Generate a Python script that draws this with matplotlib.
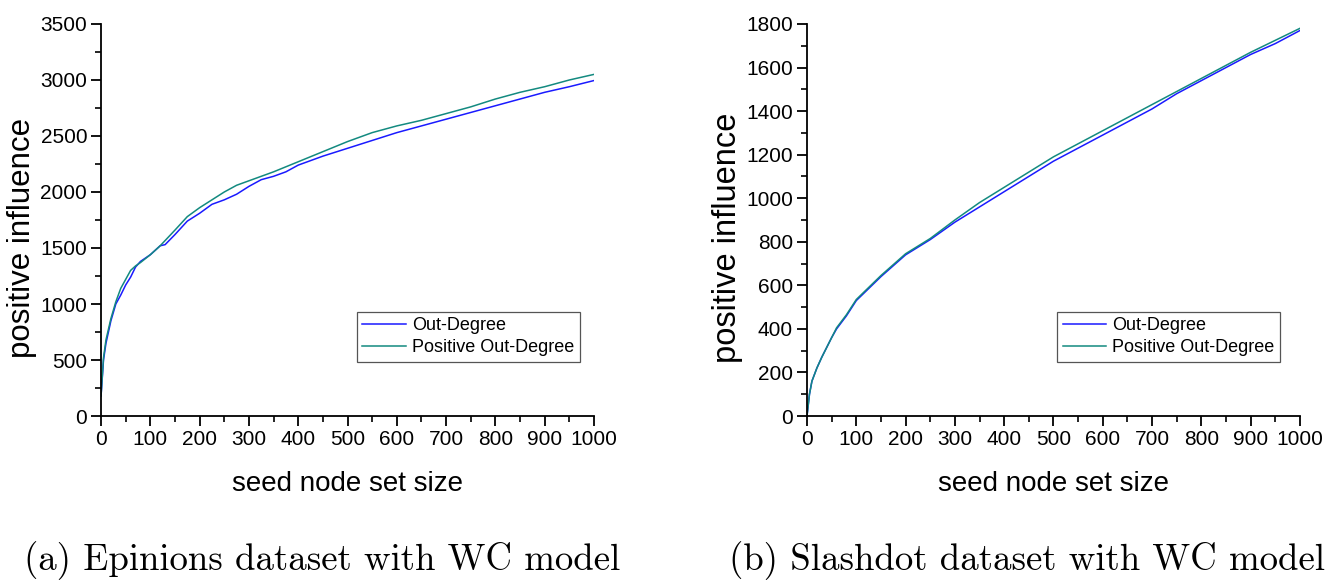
import matplotlib
matplotlib.use("Agg")
import matplotlib.pyplot as plt
from matplotlib.ticker import MultipleLocator

# ---- data ----
ep_x_out = [0, 5, 10, 20, 30, 40, 50, 60, 70, 80, 100, 120, 130, 150, 175, 200, 225, 250, 275, 300,
            325, 350, 375, 400, 450, 500, 550, 600, 650, 700, 750, 800, 850, 900, 950, 1000]
ep_y_out = [180, 500, 650, 850, 1000, 1080, 1170, 1240, 1330, 1380, 1440, 1520, 1530, 1620, 1740, 1810,
            1890, 1930, 1980, 2050, 2110, 2140, 2180, 2240, 2320, 2390, 2460, 2530, 2590, 2650, 2710,
            2770, 2830, 2890, 2940, 2995]
ep_x_pos = [0, 5, 10, 20, 30, 40, 50, 60, 70, 80, 100, 120, 150, 175, 200, 225, 250, 275, 300,
            350, 400, 450, 500, 550, 600, 650, 700, 750, 800, 850, 900, 950, 1000]
ep_y_pos = [180, 520, 680, 870, 1020, 1140, 1220, 1300, 1340, 1370, 1440, 1520, 1660, 1780, 1860,
            1930, 2000, 2060, 2100, 2180, 2270, 2360, 2450, 2530, 2590, 2640, 2700, 2760, 2830,
            2890, 2940, 3000, 3050]

sl_x_out = [0, 5, 10, 20, 30, 50, 60, 80, 100, 150, 200, 250, 300, 350, 400, 450, 500, 550, 600,
            650, 700, 750, 800, 850, 900, 950, 1000]
sl_y_out = [0, 100, 160, 220, 270, 360, 400, 460, 530, 640, 740, 810, 890, 960, 1030, 1100, 1170,
            1230, 1290, 1350, 1410, 1480, 1540, 1600, 1660, 1710, 1770]
sl_x_pos = [0, 5, 10, 20, 30, 50, 60, 80, 100, 150, 200, 250, 300, 350, 400, 450, 500, 550, 600,
            650, 700, 750, 800, 850, 900, 950, 1000]
sl_y_pos = [0, 100, 160, 220, 270, 360, 405, 465, 535, 645, 745, 815, 900, 980, 1050, 1120, 1190,
            1250, 1310, 1370, 1430, 1490, 1550, 1610, 1670, 1725, 1780]

series_labels = ["Out-Degree", "Positive Out-Degree"]
captions = ["(a) Epinions dataset with WC model", "(b) Slashdot dataset with WC model"]
x_label = "seed node set size"
y_label = "positive influence"

BLUE = "#1a1aff"
TEAL = "#138a80"
SANS = "Liberation Sans"

fig = plt.figure(figsize=(13.33, 5.82), dpi=100)

def setup(ax, ymax, ymajor, yminor, ylab_size):
    ax.set_xlim(0, 1000)
    ax.set_ylim(0, ymax)
    ax.xaxis.set_major_locator(MultipleLocator(100))
    ax.xaxis.set_minor_locator(MultipleLocator(50))
    ax.yaxis.set_major_locator(MultipleLocator(ymajor))
    ax.yaxis.set_minor_locator(MultipleLocator(yminor))
    for s in ["top", "right"]:
        ax.spines[s].set_visible(False)
    for s in ["left", "bottom"]:
        ax.spines[s].set_linewidth(1.3)
    ax.tick_params(which="major", direction="out", length=7, width=1.3, labelsize=15, pad=3)
    ax.tick_params(which="minor", direction="out", length=4, width=1.2)
    for lab in ax.get_xticklabels() + ax.get_yticklabels():
        lab.set_fontfamily(SANS)
    ax.set_xlabel(x_label, fontsize=20, fontfamily=SANS, labelpad=16)
    ax.set_ylabel(y_label, fontsize=ylab_size, fontfamily=SANS)
    ax.yaxis.set_label_coords(-0.13, 0.454)

def add_legend(ax, anchor):
    leg = ax.legend(loc="lower left", bbox_to_anchor=anchor, prop={"family": SANS, "size": 13},
                    fancybox=False, edgecolor="#555555", framealpha=1, handlelength=2.4,
                    borderpad=0.3, labelspacing=0.3, handletextpad=0.35, borderaxespad=0)
    leg.get_frame().set_linewidth(0.9)

ax1 = fig.add_axes([0.0758, 0.2852, 0.3698, 0.6736])
ax1.plot(ep_x_out, ep_y_out, color=BLUE, lw=1.1, label=series_labels[0])
ax1.plot(ep_x_pos, ep_y_pos, color=TEAL, lw=1.1, label=series_labels[1])
setup(ax1, 3500, 500, 250, 22.5)
add_legend(ax1, (0.519, 0.138))

ax2 = fig.add_axes([0.6054, 0.2852, 0.3698, 0.6736])
ax2.plot(sl_x_out, sl_y_out, color=BLUE, lw=1.1, label=series_labels[0])
ax2.plot(sl_x_pos, sl_y_pos, color=TEAL, lw=1.1, label=series_labels[1])
setup(ax2, 1800, 200, 100, 23.5)
add_legend(ax2, (0.508, 0.138))

fig.text(322 / 1333, 1 - 561 / 582, captions[0], fontfamily="cmr10", fontsize=26.5, ha="center", va="center")
fig.text(1027 / 1333, 1 - 561 / 582, captions[1], fontfamily="cmr10", fontsize=26.5, ha="center", va="center")

fig.savefig("out.png", dpi=100)
